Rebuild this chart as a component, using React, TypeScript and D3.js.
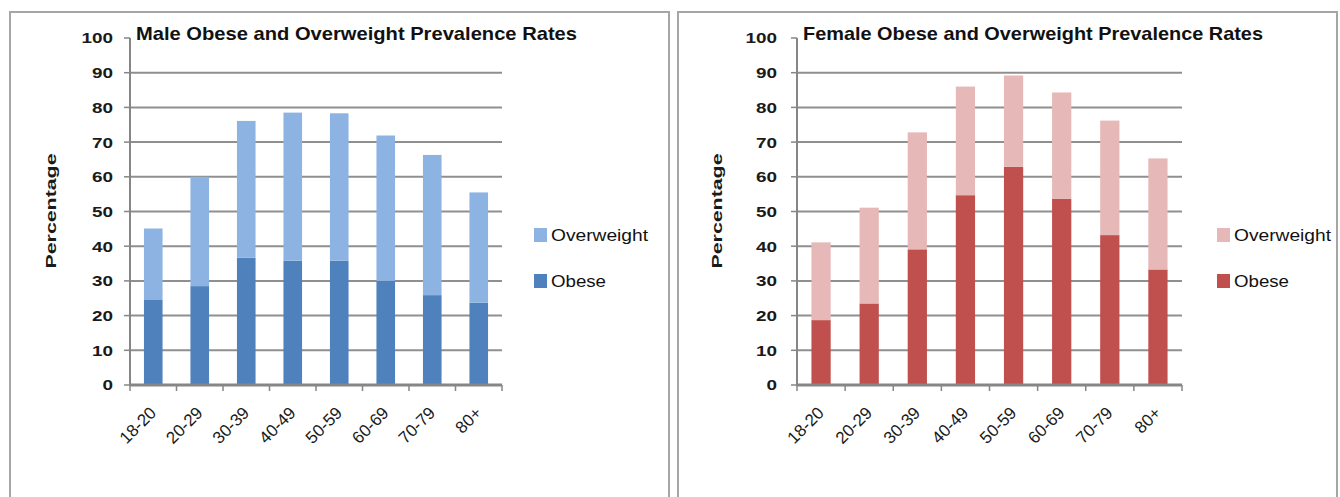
import React from "react";
import * as d3 from "d3";

const categories = ["18-20", "20-29", "30-39", "40-49", "50-59", "60-69", "70-79", "80+"];
const maleObese = [24.5, 28.5, 36.7, 35.8, 35.8, 30.0, 25.9, 23.7];
const maleOverweight = [20.6, 31.5, 39.4, 42.7, 42.5, 41.9, 40.4, 31.8];
const femaleObese = [18.7, 23.5, 39.1, 54.7, 62.9, 53.7, 43.2, 33.3];
const femaleOverweight = [22.4, 27.6, 33.7, 31.3, 26.3, 30.6, 33.0, 32.0];
const yTicks = [0, 10, 20, 30, 40, 50, 60, 70, 80, 90, 100];
const seriesNames = ["Obese", "Overweight"];

const FONT = "'Liberation Sans', Arial, sans-serif";

type PanelProps = {
  title: string;
  obese: number[];
  overweight: number[];
  colors: { Obese: string; Overweight: string };
  px: number;
  x0: number;
  x1: number;
  titleX: number;
  titleW: number;
  labelRight: number;
  pctX: number;
  legendX: number;
};

function Panel(p: PanelProps) {
  const x = d3.scaleBand<string>().domain(categories).range([p.x0, p.x1]).paddingInner(0.6).paddingOuter(0.3);
  const xEdges = d3.scaleBand<string>().domain(categories).range([p.x0, p.x1]).padding(0);
  const y = d3.scaleLinear().domain([0, 100]).range([385, 38]);
  const rows = categories.map((c, i) => ({ cat: c, Obese: p.obese[i], Overweight: p.overweight[i] }));
  const stack = d3.stack<any>().keys(seriesNames)(rows);
  const axisColor = "#868686";
  const gridColor = "#8f8f8f";
  return (
    <g>
      <rect x={p.px} y={12} width={659} height={500} fill="#fff" stroke="#a6a6a6" strokeWidth={2} />
      {yTicks.filter((t) => t > 0 && t < 100).map((t) => (
        <line key={"g" + t} x1={p.x0} x2={p.x1} y1={y(t)} y2={y(t)} stroke={gridColor} strokeWidth={2} />
      ))}
      {stack.map((s) =>
        s.map((d: any, i: number) => (
          <rect
            key={s.key + i}
            x={x(categories[i])}
            width={x.bandwidth()}
            y={y(d[1])}
            height={y(d[0]) - y(d[1])}
            fill={(p.colors as any)[s.key]}
          />
        ))
      )}
      <line x1={p.x0} x2={p.x0} y1={y(100)} y2={y(0) + 1} stroke={axisColor} strokeWidth={2} />
      {yTicks.map((t) => (
        <g key={"yt" + t}>
          <line x1={p.x0 - 6} x2={p.x0} y1={y(t)} y2={y(t)} stroke={axisColor} strokeWidth={1.5} />
          <text
            x={p.labelRight}
            y={y(t)}
            dy="0.36em"
            textAnchor="end"
            fontFamily={FONT}
            fontWeight="bold"
            fontSize={15}
            fill="#1a1a1a"
            textLength={String(t).length * 10.5}
            lengthAdjust="spacingAndGlyphs"
          >
            {t}
          </text>
        </g>
      ))}
      <line x1={p.x0} x2={p.x1} y1={y(0)} y2={y(0)} stroke={axisColor} strokeWidth={3} />
      {categories.map((c) => (
        <line key={"xt" + c} x1={xEdges(c)!} x2={xEdges(c)!} y1={y(0)} y2={y(0) + 6} stroke={axisColor} strokeWidth={1.5} />
      ))}
      <line x1={p.x1} x2={p.x1} y1={y(0)} y2={y(0) + 6} stroke={axisColor} strokeWidth={1.5} />
      {categories.map((c) => {
        const cx = x(c)! + x.bandwidth() / 2 + 4;
        const cy = 414;
        return (
          <text
            key={"xl" + c}
            x={cx}
            y={cy}
            textAnchor="end"
            transform={`rotate(-45 ${cx} ${cy})`}
            fontFamily={FONT}
            fontSize={17}
            fill="#1a1a1a"
          >
            {c}
          </text>
        );
      })}
      <text
        x={p.titleX}
        y={40}
        fontFamily={FONT}
        fontWeight="bold"
        fontSize={19}
        fill="#111"
        textLength={p.titleW}
        lengthAdjust="spacingAndGlyphs"
      >
        {p.title}
      </text>
      <text
        x={0}
        y={0}
        transform={`translate(${p.pctX},211) rotate(-90)`}
        textAnchor="middle"
        dy="0.35em"
        fontFamily={FONT}
        fontWeight="bold"
        fontSize={14}
        fill="#1a1a1a"
        textLength={115}
        lengthAdjust="spacingAndGlyphs"
      >
        Percentage
      </text>
      {["Overweight", "Obese"].map((k, i) => {
        const ly = 235 + i * 46;
        return (
          <g key={"lg" + k}>
            <rect x={p.legendX} y={ly - 7} width={13} height={14} fill={(p.colors as any)[k]} />
            <text
              x={p.legendX + 17}
              y={ly}
              dy="0.35em"
              fontFamily={FONT}
              fontSize={16}
              fill="#111"
              textLength={k === "Overweight" ? 97 : 55}
              lengthAdjust="spacingAndGlyphs"
            >
              {k}
            </text>
          </g>
        );
      })}
    </g>
  );
}

export default function App() {
  return (
    <svg
      width={1340}
      height={497}
      style={{ position: "absolute", left: 0, top: 0, background: "#fff" }}
    >
      <Panel
        title="Male Obese and Overweight Prevalence Rates"
        obese={maleObese}
        overweight={maleOverweight}
        colors={{ Obese: "#4f81bd", Overweight: "#8db3e2" }}
        px={10}
        x0={130}
        x1={502}
        titleX={136}
        titleW={441}
        labelRight={113}
        pctX={51}
        legendX={534}
      />
      <Panel
        title="Female Obese and Overweight Prevalence Rates"
        obese={femaleObese}
        overweight={femaleOverweight}
        colors={{ Obese: "#c0504d", Overweight: "#e6b9b8" }}
        px={678}
        x0={797}
        x1={1182}
        titleX={803}
        titleW={460}
        labelRight={777}
        pctX={717}
        legendX={1217}
      />
    </svg>
  );
}
